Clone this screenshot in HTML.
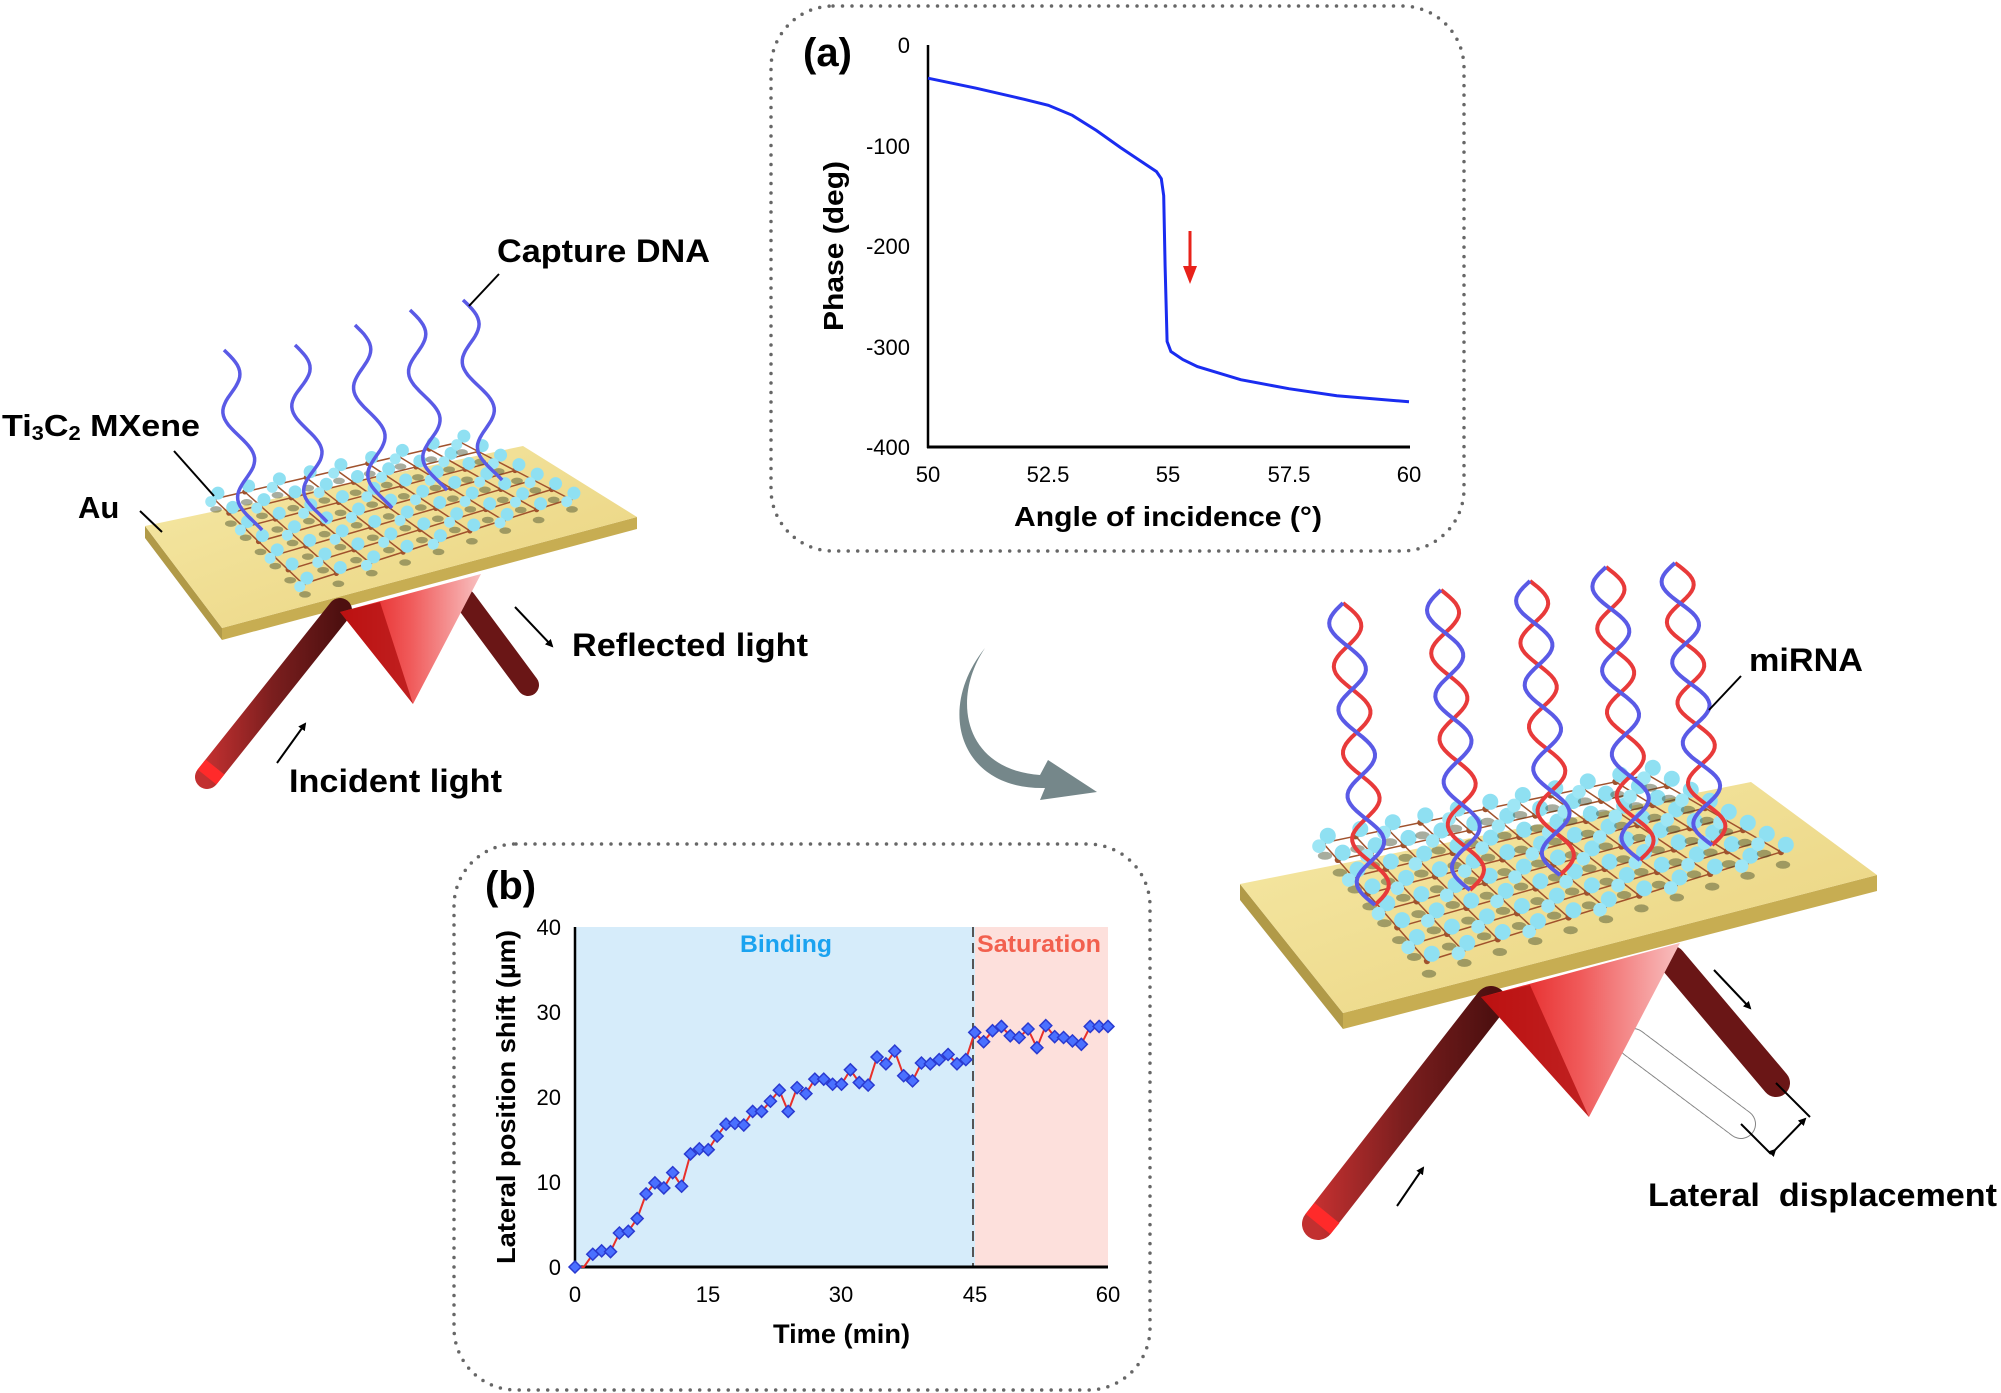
<!DOCTYPE html>
<html><head><meta charset="utf-8"><style>
html,body{margin:0;padding:0;background:#fff;}
svg{display:block;}
text{font-family:"Liberation Sans",Arial,sans-serif;}
.b{font-weight:bold;}
</style></head><body>
<svg id="s" width="2001" height="1393" viewBox="0 0 2001 1393" xmlns="http://www.w3.org/2000/svg">
<defs>
<linearGradient id="gold" x1="0" y1="0" x2="1" y2="1"><stop offset="0" stop-color="#f6e9a6"/><stop offset="1" stop-color="#e9d27e"/></linearGradient>
<linearGradient id="rod" x1="0" y1="0" x2="1" y2="0"><stop offset="0" stop-color="#c23030"/><stop offset="0.5" stop-color="#7a1e1e"/><stop offset="1" stop-color="#4e1010"/></linearGradient>
<linearGradient id="prism" x1="0" y1="0" x2="1" y2="0"><stop offset="0" stop-color="#e01010"/><stop offset="0.5" stop-color="#f05a5a"/><stop offset="1" stop-color="#f8c0c0"/></linearGradient>
<marker id="ah" markerWidth="8" markerHeight="8" refX="6" refY="4" orient="auto" markerUnits="userSpaceOnUse"><path d="M0,0 L8,4 L0,8 z" fill="#000"/></marker>
</defs>

<!-- Panel (a) -->
<rect x="771" y="6" width="693" height="545" rx="62" fill="none" stroke="#666" stroke-width="3.5" stroke-dasharray="0 9.5" stroke-linecap="round"/>
<text x="803" y="66" class="b" font-size="40">(a)</text>
<line x1="928" y1="45" x2="928" y2="448" stroke="#000" stroke-width="2.5"/>
<line x1="927" y1="447" x2="1410" y2="447" stroke="#000" stroke-width="3"/>
<g font-size="22" text-anchor="end">
<text x="910" y="53">0</text><text x="910" y="154">-100</text><text x="910" y="254">-200</text><text x="910" y="355">-300</text><text x="910" y="455">-400</text>
</g>
<g font-size="22" text-anchor="middle">
<text x="928" y="482">50</text><text x="1048" y="482">52.5</text><text x="1168" y="482">55</text><text x="1289" y="482">57.5</text><text x="1409" y="482">60</text>
</g>
<text x="1014" y="526" class="b" font-size="28" textLength="308" lengthAdjust="spacingAndGlyphs">Angle of incidence (°)</text>
<text transform="translate(843,246) rotate(-90)" class="b" font-size="28" text-anchor="middle" textLength="170" lengthAdjust="spacingAndGlyphs">Phase (deg)</text>
<path id="curveA" fill="none" stroke="#1a2cf0" stroke-width="3"/>
<line x1="1190" y1="231" x2="1190" y2="270" stroke="#e8221a" stroke-width="3"/>
<path d="M1183,266 L1197,266 L1190,284 z" fill="#e8221a"/>

<!-- Panel (b) -->
<rect x="454" y="844" width="696" height="546" rx="62" fill="none" stroke="#666" stroke-width="3.5" stroke-dasharray="0 9.5" stroke-linecap="round"/>
<text x="485" y="899" class="b" font-size="40">(b)</text>
<rect x="575" y="927" width="400" height="340" fill="#d6ecfa"/>
<rect x="975" y="927" width="133" height="340" fill="#fde0dc"/>
<line x1="973" y1="927" x2="973" y2="1267" stroke="#555" stroke-width="2" stroke-dasharray="10 6"/>
<line x1="575" y1="927" x2="575" y2="1268" stroke="#000" stroke-width="2.5"/>
<line x1="574" y1="1267" x2="1108" y2="1267" stroke="#000" stroke-width="3"/>
<text x="740" y="952" class="b" font-size="24" fill="#1aa3f0" textLength="92" lengthAdjust="spacingAndGlyphs">Binding</text>
<text x="977" y="952" class="b" font-size="24" fill="#f2604e" textLength="124" lengthAdjust="spacingAndGlyphs">Saturation</text>
<g font-size="22" text-anchor="end">
<text x="561" y="1275">0</text><text x="561" y="1190">10</text><text x="561" y="1105">20</text><text x="561" y="1020">30</text><text x="561" y="935">40</text>
</g>
<g font-size="22" text-anchor="middle">
<text x="575" y="1302">0</text><text x="708" y="1302">15</text><text x="841" y="1302">30</text><text x="975" y="1302">45</text><text x="1108" y="1302">60</text>
</g>
<text x="773" y="1343" class="b" font-size="27" textLength="137" lengthAdjust="spacingAndGlyphs">Time (min)</text>
<text transform="translate(515,1097) rotate(-90)" class="b" font-size="26" text-anchor="middle" textLength="334" lengthAdjust="spacingAndGlyphs">Lateral position shift (µm)</text>
<g id="plotB"></g>

<!-- Left illustration -->
<g id="left">
<polygon points="145,526 222,628 222,640 145,538" fill="#b19a48"/>
<polygon points="222,628 637,517 637,529 222,640" fill="#c7ad52"/>
<polygon points="145,526 523,446 637,517 222,628" fill="url(#gold)"/>
<line x1="207" y1="777" x2="340" y2="610" stroke="url(#rod)" stroke-width="24" stroke-linecap="round"/>
<line x1="207" y1="777" x2="215" y2="767" stroke="#ff2a2a" stroke-width="24"/>
<line x1="465" y1="600" x2="528" y2="685" stroke="#6a1616" stroke-width="22" stroke-linecap="round"/>
<polygon points="340,612 481,574 413,704" fill="url(#prism)"/>
<polygon points="340,612 380,602 413,704" fill="#b31212" opacity="0.8"/>
<g id="latL"></g>
<g id="dnaL"></g>
</g>
<text x="497" y="262" class="b" font-size="32" textLength="213" lengthAdjust="spacingAndGlyphs">Capture DNA</text>
<line x1="499" y1="274" x2="469" y2="306" stroke="#000" stroke-width="2"/>
<text x="2" y="436" class="b" font-size="31" textLength="198" lengthAdjust="spacingAndGlyphs">Ti<tspan font-size="20" dy="4">3</tspan><tspan dy="-4">C</tspan><tspan font-size="20" dy="4">2</tspan><tspan dy="-4"> MXene</tspan></text>
<line x1="174" y1="451" x2="214" y2="496" stroke="#000" stroke-width="2"/>
<text x="78" y="518" class="b" font-size="31">Au</text>
<line x1="140" y1="511" x2="162" y2="532" stroke="#000" stroke-width="2"/>
<text x="572" y="656" class="b" font-size="32" textLength="236" lengthAdjust="spacingAndGlyphs">Reflected light</text>
<line x1="515" y1="607" x2="552" y2="646" stroke="#000" stroke-width="2" marker-end="url(#ah)"/>
<text x="289" y="792" class="b" font-size="32" textLength="213" lengthAdjust="spacingAndGlyphs">Incident light</text>
<line x1="277" y1="763" x2="305" y2="724" stroke="#000" stroke-width="2" marker-end="url(#ah)"/>

<!-- curved arrow -->
<path d="M985,648 C950,700 965,770 1040,775 L1048,760 L1097,792 L1040,800 L1045,788 C960,790 935,710 985,648 z" fill="#75878a"/>

<!-- Right illustration -->
<g id="right">
<polygon points="1240,884 1343,1013 1343,1029 1240,900" fill="#b19a48"/>
<polygon points="1343,1013 1877,875 1877,891 1343,1029" fill="#c7ad52"/>
<polygon points="1240,884 1751,782 1877,875 1343,1013" fill="url(#gold)"/>
<line x1="1318" y1="1224" x2="1491" y2="1002" stroke="url(#rod)" stroke-width="32" stroke-linecap="round"/>
<line x1="1318" y1="1224" x2="1327" y2="1213" stroke="#ff2a2a" stroke-width="32"/>
<line x1="1672" y1="960" x2="1776" y2="1083" stroke="#6a1616" stroke-width="28" stroke-linecap="round"/>
<line x1="1633" y1="1043" x2="1741" y2="1124" stroke="#333" stroke-width="30" stroke-linecap="round" stroke-dasharray="3 3" opacity="0.6"/>
<line x1="1633" y1="1043" x2="1741" y2="1124" stroke="#fff" stroke-width="28" stroke-linecap="round"/>
<polygon points="1481,997 1680,943 1589,1117" fill="url(#prism)"/>
<polygon points="1481,997 1530,985 1589,1117" fill="#b31212" opacity="0.8"/>
<g id="latR"></g>
<g id="dnaR"></g>
</g>
<line x1="1776" y1="1083" x2="1810" y2="1117" stroke="#000" stroke-width="2"/>
<line x1="1741" y1="1124" x2="1771" y2="1154" stroke="#000" stroke-width="2"/>
<line x1="1775" y1="1150" x2="1805" y2="1119" stroke="#000" stroke-width="2" marker-end="url(#ah)" marker-start="url(#ah)"/>
<line x1="1714" y1="970" x2="1750" y2="1008" stroke="#000" stroke-width="2" marker-end="url(#ah)"/>
<line x1="1397" y1="1206" x2="1423" y2="1168" stroke="#000" stroke-width="2" marker-end="url(#ah)"/>
<text x="1648" y="1206" class="b" font-size="32" textLength="349" lengthAdjust="spacingAndGlyphs">Lateral&#160;&#160;displacement</text>
<text x="1749" y="671" class="b" font-size="32" textLength="114" lengthAdjust="spacingAndGlyphs">miRNA</text>
<line x1="1741" y1="676" x2="1709" y2="710" stroke="#000" stroke-width="2"/>
</svg>
<script>
var NS="http://www.w3.org/2000/svg";
function el(p,t,a){var e=document.createElementNS(NS,t);for(var k in a)e.setAttribute(k,a[k]);p.appendChild(e);return e;}
var ca=[[50,-33],[51,-43],[52,-54],[52.5,-60],[53,-70],[53.5,-85],[54,-102],[54.5,-118],[54.75,-126],[54.85,-133],[54.9,-150],[54.93,-220],[54.97,-295],[55.05,-305],[55.3,-313],[55.6,-320],[56.5,-333],[57.5,-342],[58.5,-349],[60,-355]];
document.getElementById('curveA').setAttribute('d','M'+ca.map(function(p){return (928+(p[0]-50)*48.1).toFixed(1)+','+(45-p[1]*1.005).toFixed(1)}).join(' L'));
var v=[0,0,1.5,1.9,1.8,4.0,4.2,5.7,8.6,9.9,9.3,11.1,9.5,13.3,13.9,13.8,15.4,16.8,16.9,16.7,18.3,18.3,19.5,20.8,18.3,21.1,20.4,22.1,22.1,21.5,21.5,23.2,21.7,21.4,24.7,23.9,25.4,22.5,21.9,24,23.9,24.4,25,23.9,24.4,27.6,26.5,27.8,28.3,27.2,27,28,25.8,28.4,27.1,27,26.6,26.2,28.3,28.3,28.3];
var g=document.getElementById('plotB');
var pts=v.map(function(y,i){return [575+i*8.883,1267-y*8.5]});
el(g,'polyline',{points:pts.map(function(p){return p[0].toFixed(1)+','+p[1].toFixed(1)}).join(' '),fill:'none',stroke:'#e8302a','stroke-width':2});
pts.forEach(function(p,i){if(i==1)return;var x=p[0],y=p[1],r=6;el(g,'polygon',{points:(x)+','+(y-r)+' '+(x+r)+','+y+' '+x+','+(y+r)+' '+(x-r)+','+y,fill:'#4a70ff',stroke:'#2a3ad0','stroke-width':1.5});});
function lat(id,L,B,R,F,n,m,rad){var g=document.getElementById(id);
 function P(u,w){var ax=L[0]+(B[0]-L[0])*u, ay=L[1]+(B[1]-L[1])*u, bx=F[0]+(R[0]-F[0])*u, by=F[1]+(R[1]-F[1])*u;return [ax+(bx-ax)*w, ay+(by-ay)*w];}
 for(var i=0;i<=n;i++)for(var j=0;j<=m;j++){var p=P(i/n,j/m);
  if(i<n){var q=P((i+1)/n,j/m);el(g,'line',{x1:p[0],y1:p[1],x2:q[0],y2:q[1],stroke:'#a0522d','stroke-width':1.5});}
  if(j<m){var q=P(i/n,(j+1)/m);el(g,'line',{x1:p[0],y1:p[1],x2:q[0],y2:q[1],stroke:'#a0522d','stroke-width':1.5});}}
 for(var i=0;i<=n;i++)for(var j=0;j<=m;j++){var p=P(i/n,j/m);
  el(g,'ellipse',{cx:p[0]+2,cy:p[1]+rad*1.6,rx:rad*0.9,ry:rad*0.5,fill:'#3d4a2a',opacity:0.45});
  el(g,'circle',{cx:p[0],cy:p[1],r:rad*0.4,fill:'#a0522d'});
  el(g,'circle',{cx:p[0]+rad*0.6,cy:p[1]-rad*0.9,r:rad,fill:'#8fe0f2'});
  if((i+j)%2==0)el(g,'circle',{cx:p[0]-rad*0.5,cy:p[1]+rad*0.4,r:rad*0.85,fill:'#9ee6f5'});}
}
lat('latL',[214,499],[460,442],[570,499],[303,584],8,6,6.5);
lat('latR',[1323,843],[1648,775],[1781,852],[1427,961],10,7,8);
var gl=document.getElementById('dnaL');
[[224,350,255,530],[295,345,320,522],[355,325,385,508],[410,310,440,490],[463,300,495,480]].forEach(function(d){
 var s='';for(var k=0;k<=60;k++){var t=k/60;var y=d[1]+(d[3]-d[1])*t;var x=d[0]+(d[2]-d[0])*t+12*Math.sin(t*Math.PI*4.2);s+=(k?'L':'M')+x.toFixed(1)+','+y.toFixed(1);}
 el(gl,'path',{d:s,fill:'none',stroke:'#5a5ae6','stroke-width':3.5});});
var gr=document.getElementById('dnaR');
[[1343,603,1375,905],[1441,590,1470,890],[1530,581,1560,875],[1606,567,1640,860],[1675,563,1712,845]].forEach(function(d){
 [[0,'#e83a3a'],[Math.PI,'#5a5ae6']].forEach(function(c){
 var s='';for(var k=0;k<=90;k++){var t=k/90;var y=d[1]+(d[3]-d[1])*t;var x=d[0]+(d[2]-d[0])*t+16*Math.sin(t*Math.PI*7+c[0]);s+=(k?'L':'M')+x.toFixed(1)+','+y.toFixed(1);}
 el(gr,'path',{d:s,fill:'none',stroke:c[1],'stroke-width':4});});});
</script>
</body></html>
